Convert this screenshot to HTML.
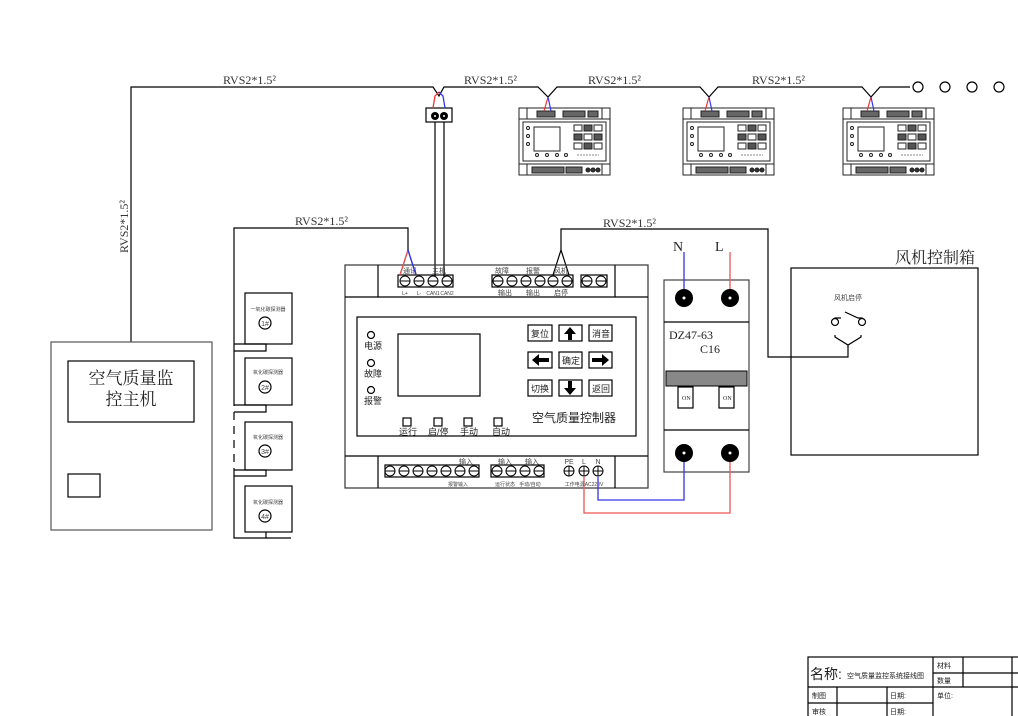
<!DOCTYPE html>
<html><head><meta charset="utf-8"><style>
html,body{margin:0;padding:0;background:#fff;}
svg{display:block;font-family:"Liberation Serif","Noto Serif CJK SC","Noto Sans CJK SC",serif;}
.s{font-family:"Liberation Sans","Noto Sans CJK SC",sans-serif;}
</style></head><body>
<svg width="1018" height="716" viewBox="0 0 1018 716" xmlns="http://www.w3.org/2000/svg">
<g fill="none" stroke="#000" stroke-width="1.2">
<polyline points="131,342 131,87 433,87 439,96 444,87 538,87 548,97 557,87 700,87 709,97 718,87 862,87 871,97 880,87 910,87"/>
<circle cx="918" cy="87" r="5"/><circle cx="945" cy="87" r="5"/><circle cx="972" cy="87" r="5"/><circle cx="999" cy="87" r="5"/>
<rect x="51" y="342" width="161" height="188" stroke="#555"/>
<rect x="68" y="361" width="126" height="61"/>
<rect x="68" y="474" width="32" height="23"/>
<rect x="426" y="108" width="26" height="14"/>
<line x1="435" y1="122" x2="435" y2="277"/><line x1="444" y1="122" x2="444" y2="277"/>
<polyline points="234,398 234,228 408,228 408,250"/>
<line x1="234" y1="398" x2="234" y2="470" stroke-dasharray="8,6"/>
<polyline points="234,470 234,538 291,538"/>
<rect x="245" y="293" width="47" height="51"/><rect x="245" y="358" width="47" height="47"/>
<rect x="245" y="422" width="47" height="48"/><rect x="245" y="486" width="47" height="46"/>
<polyline points="234,344 266,344 266,351 234,351" /><polyline points="234,405 266,405 266,412 234,412"/>
<polyline points="234,470 266,470 266,476 234,476"/><polyline points="266,532 266,538"/>
<circle cx="265" cy="323" r="6"/><circle cx="265" cy="387" r="6"/><circle cx="265" cy="451" r="6"/><circle cx="265" cy="516" r="6"/>
<polyline points="561,250 561,229 768,229 768,357 848,357 848,345"/>
<polyline points="553,275 561,250 569,275"/>
<polyline points="400,275 408,250 416,275"/>
<rect x="345" y="265" width="303" height="223" stroke="#333"/>
<line x1="345" y1="297" x2="648" y2="297"/><line x1="345" y1="456" x2="648" y2="456"/>
<line x1="378" y1="265" x2="378" y2="297"/><line x1="615" y1="265" x2="615" y2="297"/>
<line x1="378" y1="456" x2="378" y2="488"/><line x1="615" y1="456" x2="615" y2="488"/>
<rect x="357" y="317" width="279" height="119"/>
<rect x="398" y="334" width="82" height="62"/>
<rect x="398" y="275" width="55" height="12"/><rect x="492" y="275" width="81" height="12"/><rect x="581" y="275" width="26" height="12"/>
<rect x="385" y="465" width="94" height="12"/><rect x="491" y="465" width="53" height="12"/>
<circle cx="371" cy="335" r="3.5"/><circle cx="371" cy="363" r="3.5"/><circle cx="371" cy="390" r="3.5"/>
<rect x="403" y="418" width="8" height="8"/><rect x="434" y="418" width="8" height="8"/><rect x="464" y="418" width="8" height="8"/><rect x="494" y="418" width="8" height="8"/>
<rect x="528" y="325" width="24" height="16"/><rect x="559" y="325" width="23" height="16"/><rect x="589" y="325" width="23" height="16"/>
<rect x="528" y="352" width="24" height="16"/><rect x="559" y="352" width="23" height="16"/><rect x="589" y="352" width="23" height="16"/>
<rect x="528" y="380" width="24" height="16"/><rect x="559" y="380" width="23" height="16"/><rect x="589" y="380" width="23" height="16"/>
<rect x="664" y="280" width="85" height="192" stroke="#444"/>
<line x1="664" y1="322" x2="749" y2="322"/><line x1="664" y1="430" x2="749" y2="430"/>
<rect x="678" y="387" width="15" height="21"/><rect x="719" y="387" width="15" height="21"/>
<rect x="791" y="268" width="187" height="187"/>
<polyline points="835,323 835,318 841,318"/><polyline points="845,312 858,318 862,318 862,323"/>
<circle cx="835" cy="322" r="3.5" fill="#fff"/><circle cx="862" cy="322" r="3.5" fill="#fff"/>
<polyline points="835,335 835,337 848,345 861,337 861,335"/>
<rect x="808" y="657" width="215" height="70"/>
<line x1="933" y1="657" x2="933" y2="716"/><line x1="963" y1="657" x2="963" y2="687"/><line x1="1012" y1="657" x2="1012" y2="716"/>
<line x1="933" y1="673" x2="1018" y2="673"/><line x1="808" y1="687" x2="1018" y2="687"/><line x1="808" y1="703" x2="933" y2="703"/>
<line x1="837" y1="687" x2="837" y2="716"/><line x1="887" y1="687" x2="887" y2="716"/>
</g>
<g fill="none" stroke-width="1.3">
<polyline points="433,108 435,96 439,92" stroke="#e33"/><polyline points="445,108 443,96 439,92" stroke="#33e"/>
<polyline points="400,275 408,250" stroke="#e55"/><polyline points="416,275 408,250" stroke="#33e"/>
<line x1="684" y1="252" x2="684" y2="298" stroke="#33e"/><line x1="730" y1="252" x2="730" y2="298" stroke="#e55"/>
<polyline points="684,453 684,500 598,500 598,477" stroke="#33e"/>
<polyline points="730,453 730,513 584,513 584,477" stroke="#e55"/>
</g>
<g fill="#fff" stroke="#000" stroke-width="1">
<circle cx="405" cy="281" r="5"/><circle cx="419" cy="281" r="5"/><circle cx="433" cy="281" r="5"/><circle cx="447" cy="281" r="5"/>
<circle cx="498" cy="281" r="5"/><circle cx="512" cy="281" r="5"/><circle cx="526" cy="281" r="5"/><circle cx="540" cy="281" r="5"/><circle cx="553" cy="281" r="5"/><circle cx="567" cy="281" r="5"/>
<circle cx="587" cy="281" r="5"/><circle cx="601" cy="281" r="5"/>
<circle cx="390" cy="471" r="5"/><circle cx="404" cy="471" r="5"/><circle cx="418" cy="471" r="5"/><circle cx="432" cy="471" r="5"/><circle cx="446" cy="471" r="5"/><circle cx="460" cy="471" r="5"/><circle cx="474" cy="471" r="5"/>
<circle cx="497" cy="471" r="5"/><circle cx="511" cy="471" r="5"/><circle cx="525" cy="471" r="5"/><circle cx="539" cy="471" r="5"/>
<circle cx="569" cy="471" r="5"/><circle cx="584" cy="471" r="5"/><circle cx="598" cy="471" r="5"/>
</g>
<g stroke="#000" stroke-width="1">
<path d="M400,281h10M414,281h10M428,281h10M442,281h10M493,281h10M507,281h10M521,281h10M535,281h10M548,281h10M562,281h10M582,281h10M596,281h10M385,471h10M399,471h10M413,471h10M427,471h10M441,471h10M455,471h10M469,471h10M492,471h10M506,471h10M520,471h10M534,471h10M564,471h10M579,471h10M593,471h10M569,466v10M584,466v10M598,466v10"/>
</g>
<circle cx="435" cy="116" r="4" fill="#000"/><circle cx="444" cy="116" r="4" fill="#000"/>
<circle cx="435" cy="116" r="1" fill="#fff"/><circle cx="444" cy="116" r="1" fill="#fff"/>
<g fill="#000"><circle cx="684" cy="298" r="9"/><circle cx="730" cy="298" r="9"/><circle cx="684" cy="453" r="9"/><circle cx="730" cy="453" r="9"/></g>
<g fill="#fff"><circle cx="684" cy="298" r="1.5"/><circle cx="730" cy="298" r="1.5"/><circle cx="684" cy="453" r="1.5"/><circle cx="730" cy="453" r="1.5"/></g>
<rect x="666" y="371" width="81" height="15" fill="#888" stroke="#000"/>
<g fill="#000">
<path d="M570,327 L564,334 L568,334 L568,340 L572,340 L572,334 L576,334 Z"/>
<path d="M570,395 L564,388 L568,388 L568,381 L572,381 L572,388 L576,388 Z"/>
<path d="M532,360 L539,354 L539,358 L549,358 L549,362 L539,362 L539,366 Z"/>
<path d="M609,360 L602,354 L602,358 L592,358 L592,362 L602,362 L602,366 Z"/>
</g>
<g transform="translate(519,108)" fill="none" stroke="#222" stroke-width="1">
<rect x="0" y="0" width="91" height="67"/><line x1="0" y1="11" x2="91" y2="11"/><line x1="0" y1="56" x2="91" y2="56"/>
<line x1="8" y1="0" x2="8" y2="11"/><line x1="83" y1="0" x2="83" y2="11"/><line x1="8" y1="56" x2="8" y2="67"/><line x1="83" y1="56" x2="83" y2="67"/>
<rect x="4" y="14" width="83" height="39"/><rect x="15" y="19" width="26" height="24"/>
<rect x="18" y="3" width="18" height="6" fill="#666"/><rect x="44" y="3" width="22" height="6" fill="#666"/><rect x="69" y="3" width="10" height="6" fill="#666"/>
<rect x="13" y="59" width="32" height="6" fill="#666"/><rect x="47" y="59" width="16" height="6" fill="#666"/>
<circle cx="69" cy="62" r="2" fill="#333"/><circle cx="74" cy="62" r="2" fill="#333"/><circle cx="79" cy="62" r="2" fill="#333"/>
<rect x="55" y="17" width="8" height="6"/><rect x="65" y="17" width="8" height="6" fill="#555"/><rect x="75" y="17" width="8" height="6"/>
<rect x="55" y="26" width="8" height="6" fill="#555"/><rect x="65" y="26" width="8" height="6"/><rect x="75" y="26" width="8" height="6" fill="#555"/>
<rect x="55" y="35" width="8" height="6"/><rect x="65" y="35" width="8" height="6" fill="#555"/><rect x="75" y="35" width="8" height="6"/>
<circle cx="9" cy="20" r="1.5"/><circle cx="9" cy="28" r="1.5"/><circle cx="9" cy="36" r="1.5"/>
<circle cx="18" cy="47" r="1.5"/><circle cx="28" cy="47" r="1.5"/><circle cx="38" cy="47" r="1.5"/><circle cx="47" cy="47" r="1.5"/>
<line x1="58" y1="47" x2="80" y2="47" stroke="#888" stroke-dasharray="2,1"/>
</g>
<g transform="translate(683,108)" fill="none" stroke="#222" stroke-width="1">
<rect x="0" y="0" width="91" height="67"/><line x1="0" y1="11" x2="91" y2="11"/><line x1="0" y1="56" x2="91" y2="56"/>
<line x1="8" y1="0" x2="8" y2="11"/><line x1="83" y1="0" x2="83" y2="11"/><line x1="8" y1="56" x2="8" y2="67"/><line x1="83" y1="56" x2="83" y2="67"/>
<rect x="4" y="14" width="83" height="39"/><rect x="15" y="19" width="26" height="24"/>
<rect x="18" y="3" width="18" height="6" fill="#666"/><rect x="44" y="3" width="22" height="6" fill="#666"/><rect x="69" y="3" width="10" height="6" fill="#666"/>
<rect x="13" y="59" width="32" height="6" fill="#666"/><rect x="47" y="59" width="16" height="6" fill="#666"/>
<circle cx="69" cy="62" r="2" fill="#333"/><circle cx="74" cy="62" r="2" fill="#333"/><circle cx="79" cy="62" r="2" fill="#333"/>
<rect x="55" y="17" width="8" height="6"/><rect x="65" y="17" width="8" height="6" fill="#555"/><rect x="75" y="17" width="8" height="6"/>
<rect x="55" y="26" width="8" height="6" fill="#555"/><rect x="65" y="26" width="8" height="6"/><rect x="75" y="26" width="8" height="6" fill="#555"/>
<rect x="55" y="35" width="8" height="6"/><rect x="65" y="35" width="8" height="6" fill="#555"/><rect x="75" y="35" width="8" height="6"/>
<circle cx="9" cy="20" r="1.5"/><circle cx="9" cy="28" r="1.5"/><circle cx="9" cy="36" r="1.5"/>
<circle cx="18" cy="47" r="1.5"/><circle cx="28" cy="47" r="1.5"/><circle cx="38" cy="47" r="1.5"/><circle cx="47" cy="47" r="1.5"/>
<line x1="58" y1="47" x2="80" y2="47" stroke="#888" stroke-dasharray="2,1"/>
</g>
<g transform="translate(843,108)" fill="none" stroke="#222" stroke-width="1">
<rect x="0" y="0" width="91" height="67"/><line x1="0" y1="11" x2="91" y2="11"/><line x1="0" y1="56" x2="91" y2="56"/>
<line x1="8" y1="0" x2="8" y2="11"/><line x1="83" y1="0" x2="83" y2="11"/><line x1="8" y1="56" x2="8" y2="67"/><line x1="83" y1="56" x2="83" y2="67"/>
<rect x="4" y="14" width="83" height="39"/><rect x="15" y="19" width="26" height="24"/>
<rect x="18" y="3" width="18" height="6" fill="#666"/><rect x="44" y="3" width="22" height="6" fill="#666"/><rect x="69" y="3" width="10" height="6" fill="#666"/>
<rect x="13" y="59" width="32" height="6" fill="#666"/><rect x="47" y="59" width="16" height="6" fill="#666"/>
<circle cx="69" cy="62" r="2" fill="#333"/><circle cx="74" cy="62" r="2" fill="#333"/><circle cx="79" cy="62" r="2" fill="#333"/>
<rect x="55" y="17" width="8" height="6"/><rect x="65" y="17" width="8" height="6" fill="#555"/><rect x="75" y="17" width="8" height="6"/>
<rect x="55" y="26" width="8" height="6" fill="#555"/><rect x="65" y="26" width="8" height="6"/><rect x="75" y="26" width="8" height="6" fill="#555"/>
<rect x="55" y="35" width="8" height="6"/><rect x="65" y="35" width="8" height="6" fill="#555"/><rect x="75" y="35" width="8" height="6"/>
<circle cx="9" cy="20" r="1.5"/><circle cx="9" cy="28" r="1.5"/><circle cx="9" cy="36" r="1.5"/>
<circle cx="18" cy="47" r="1.5"/><circle cx="28" cy="47" r="1.5"/><circle cx="38" cy="47" r="1.5"/><circle cx="47" cy="47" r="1.5"/>
<line x1="58" y1="47" x2="80" y2="47" stroke="#888" stroke-dasharray="2,1"/>
</g>
<g fill="none" stroke-width="1.2">
<polyline points="544,111 548,97" stroke="#e33"/><polyline points="551,111 548,97" stroke="#33e"/>
<polyline points="705,111 709,97" stroke="#e33"/><polyline points="712,111 709,97" stroke="#33e"/>
<polyline points="867,111 871,97" stroke="#e33"/><polyline points="874,111 871,97" stroke="#33e"/>
</g>
<g fill="#333" font-size="12">
<text x="223" y="84">RVS2*1.5²</text>
<text x="464" y="84">RVS2*1.5²</text>
<text x="588" y="84">RVS2*1.5²</text>
<text x="752" y="84">RVS2*1.5²</text>
<text x="295" y="225">RVS2*1.5²</text>
<text x="603" y="227">RVS2*1.5²</text>
<text transform="translate(128,253) rotate(-90)">RVS2*1.5²</text>
</g>
<g font-size="17" fill="#222" text-anchor="middle">
<text x="131" y="384">空气质量监</text><text x="131" y="405">控主机</text>
</g>
<text x="895" y="263" font-size="16" fill="#222">风机控制箱</text>
<g font-size="14" fill="#222"><text x="673" y="251">N</text><text x="715" y="251">L</text>
<text x="669" y="339" font-size="12">DZ47-63</text><text x="700" y="353" font-size="12">C16</text></g>
<g font-size="6" fill="#222"><text x="682" y="400">ON</text><text x="723" y="400">ON</text></g>
<g font-size="7" fill="#444" class="s" text-anchor="middle">
<text x="848" y="300">风机启停</text>
<text x="268" y="311" font-size="5">一氧化碳探测器</text><text x="268" y="374" font-size="5">氧化碳探测器</text>
<text x="268" y="439" font-size="5">氧化碳探测器</text><text x="268" y="504" font-size="5">氧化碳探测器</text>
<text x="265" y="326">1#</text><text x="265" y="390">2#</text><text x="265" y="454">3#</text><text x="265" y="519">4#</text>
<text x="410" y="273">通讯</text><text x="439" y="273">主机</text>
<text x="502" y="273">故障</text><text x="533" y="273">报警</text><text x="561" y="273">风机</text>
<text x="405" y="295" font-size="5">L+</text><text x="419" y="295" font-size="5">L-</text><text x="433" y="295" font-size="5">CAN1</text><text x="447" y="295" font-size="5">CAN2</text>
<text x="505" y="295">输出</text><text x="533" y="295">输出</text><text x="561" y="295">启停</text>
<text x="466" y="464">输入</text><text x="505" y="464">输入</text><text x="532" y="464">输入</text>
<text x="569" y="464">PE</text><text x="584" y="464">L</text><text x="598" y="464">N</text>
<text x="458" y="486" font-size="5">报警输入</text><text x="505" y="486" font-size="5">运行状态</text><text x="530" y="486" font-size="5">手动/自动</text><text x="584" y="486" font-size="5">工作电源AC220V</text>
</g>
<g font-size="9" fill="#222" class="s">
<text x="364" y="349">电源</text><text x="364" y="377">故障</text><text x="364" y="404">报警</text>
<text x="399" y="435">运行</text><text x="428" y="435">启/停</text><text x="460" y="435">手动</text><text x="492" y="435">自动</text>
<text x="531" y="337">复位</text><text x="592" y="337">消音</text><text x="562" y="364">确定</text>
<text x="531" y="392">切换</text><text x="592" y="392">返回</text>
</g>
<text x="532" y="422" font-size="12" fill="#222" class="s">空气质量控制器</text>
<g fill="#222" class="s">
<text x="810" y="679" font-size="14">名称:</text>
<text x="847" y="678" font-size="7">空气质量监控系统接线图</text>
<g font-size="7"><text x="937" y="668">材料</text><text x="937" y="683">数量</text><text x="812" y="698">制图</text><text x="812" y="714">审核</text><text x="890" y="698">日期:</text><text x="890" y="714">日期:</text><text x="937" y="698">单位:</text></g>
</g>
</svg>
</body></html>
